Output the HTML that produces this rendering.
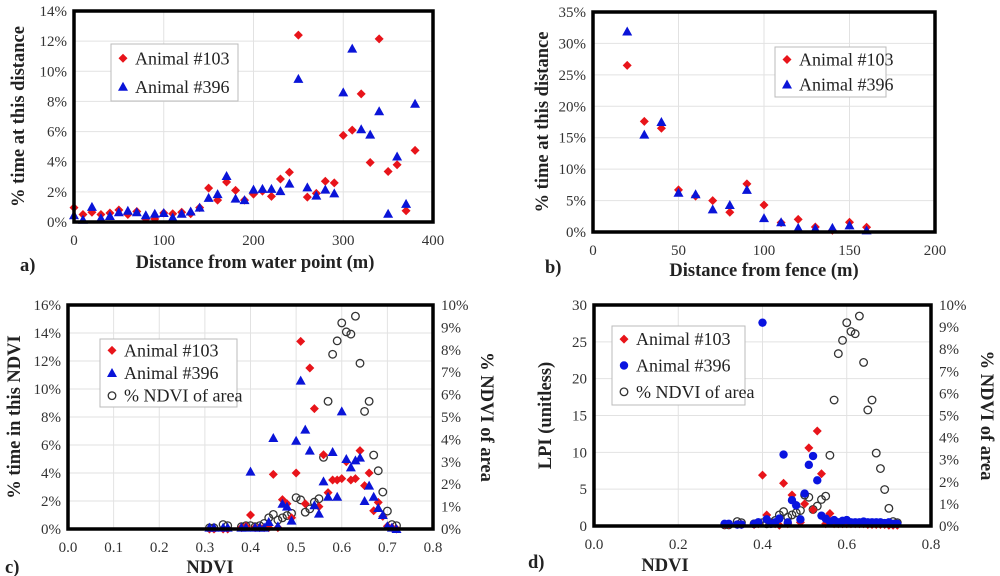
<!DOCTYPE html>
<html><head><meta charset="utf-8"><style>
body{margin:0;background:#fff;font-family:"Liberation Serif","DejaVu Serif",serif;}
svg{display:block;font-family:"Liberation Serif","DejaVu Serif",serif;}
svg text{font-family:"Liberation Serif","DejaVu Serif",serif;}
.tk{font-size:15px;fill:#333;}
.ttl{font-size:18.5px;font-weight:bold;fill:#222;}
.lg{font-size:18px;fill:#222;}
</style></head><body>
<svg id="chart" width="1000" height="576" viewBox="0 0 1000 576" font-family="Liberation Serif, serif"></svg>
<script>
// Panel a data
const aDist=[0,10,20,30,40,50,60,70,80,90,100,110,120,130,140,150,160,170,180,190,200,210,220,230,240,250,260,270,280,290,300,310,320,330,340,350,360,370,380];
const aRed=[0.95,0.5,0.65,0.5,0.6,0.8,0.5,0.7,0.2,0.2,0.6,0.55,0.65,0.55,0.95,2.25,1.45,2.65,2.1,1.45,1.85,2.05,1.7,2.85,3.3,12.4,1.65,1.9,2.7,2.6,5.75,6.1,8.5,3.95,12.15,3.35,3.8,0.75,4.75];
const aBlue=[0.45,0.15,1.0,0.25,0.4,0.65,0.75,0.65,0.45,0.55,0.6,0.3,0.55,0.7,0.95,1.6,1.85,3.05,1.55,1.45,2.15,2.2,2.2,2.05,2.55,9.5,2.3,1.75,2.15,1.9,8.6,11.5,6.15,5.8,7.35,0.55,4.35,1.2,7.85];
const aXTicks=[0,100,200,300,400];
const aYTicks=[0,2,4,6,8,10,12,14];
// Panel b data
const bDist=[20,30,40,50,60,70,80,90,100,110,120,130,140,150,160];
const bRed=[26.5,17.6,16.5,6.7,5.7,5.0,3.15,7.65,4.3,1.5,2.0,0.8,0.27,1.55,0.75];
const bBlue=[31.9,15.5,17.5,6.25,6.0,3.6,4.3,6.7,2.2,1.55,0.65,0.55,0.65,1.05,0.25];
const bXTicks=[0,50,100,150,200];
const bYTicks=[0,5,10,15,20,25,30,35];
// Panels c/d data
const ndvi=[0.31,0.32,0.34,0.35,0.38,0.39,0.40,0.41,0.42,0.43,0.44,0.45,0.46,0.47,0.48,0.49,0.50,0.51,0.52,0.53,0.54,0.55,0.56,0.57,0.58,0.59,0.60,0.61,0.62,0.63,0.64,0.65,0.66,0.67,0.68,0.69,0.70,0.71,0.72];
const cRed=[0,0,0,0,0.1,0.2,1.0,0.1,0.1,0.1,0.1,3.9,0.1,2.1,1.8,0.8,4.0,13.4,1.8,11.5,8.6,1.6,5.3,2.6,3.5,3.5,3.6,4.8,3.5,3.6,5.6,3.1,4.0,1.3,1.9,0.9,0.2,0.1,0];
const cBlue=[0.1,0.1,0.1,0.1,0.1,0.1,4.1,0.1,0.1,0.1,0.5,6.5,0.2,1.8,1.6,0.6,6.3,10.6,7.1,5.6,1.7,1.1,3.4,2.3,5.5,2.3,8.4,5.0,4.4,4.9,5.1,2.0,3.1,2.3,1.5,1.0,0.2,0.1,0];
const areaPct=[0.05,0.05,0.2,0.15,0.1,0.15,0.15,0.1,0.15,0.25,0.5,0.65,0.4,0.5,0.6,0.7,1.4,1.3,0.75,0.9,1.2,1.35,3.2,5.7,7.8,8.4,9.2,8.8,8.7,9.5,7.4,5.25,5.7,3.3,2.6,1.65,0.8,0.2,0.15];
const dRed=[0.2,0.2,0.2,0.2,0.2,0.3,6.9,1.5,0.3,0.3,0.1,5.8,0.3,4.2,2.8,0.5,3.0,10.6,2.2,12.9,7.1,0.3,1.7,0.3,0.3,0.3,0.3,0.3,0.3,0.3,0.3,0.2,0.2,0.2,0.2,0.2,0.1,0.1,0.1];
const dBlue=[0.3,0.3,0.2,0.2,0.3,0.5,27.6,0.9,0.3,0.5,1.0,9.7,0.5,3.5,2.8,0.9,4.4,8.3,9.5,6.2,1.4,1.0,0.6,0.8,0.5,0.7,0.8,0.5,0.5,0.5,0.6,0.5,0.5,0.5,0.5,0.4,0.5,0.3,0.3];
const cXTicks=[0,0.1,0.2,0.3,0.4,0.5,0.6,0.7,0.8];
const cYTicks=[0,2,4,6,8,10,12,14,16];
const rTicks=[0,1,2,3,4,5,6,7,8,9,10];
const dXTicks=[0,0.2,0.4,0.6,0.8];
const dYTicks=[0,5,10,15,20,25,30];

const NS="http://www.w3.org/2000/svg";
const FONT='"Liberation Serif", "DejaVu Serif", serif';
const svg=document.getElementById('chart');
function el(tag,attrs,parent,text){const e=document.createElementNS(NS,tag);for(const k in attrs)e.setAttribute(k,attrs[k]);if(tag==='text'){e.setAttribute('font-family',FONT);e.style.fontFamily=FONT;}if(text!==undefined)e.textContent=text;(parent||svg).appendChild(e);return e;}
function lin(d0,d1,r0,r1){return v=>r0+(v-d0)/(d1-d0)*(r1-r0);}

function panel(p){
  const g=el('g',{});
  
  
  const x=lin(p.xd[0],p.xd[1],p.L,p.R), y=lin(p.yd[0],p.yd[1],p.B,p.T);
  p.xs=x;p.ys=y;
  p.xTicks.forEach(t=>{el('line',{x1:x(t),x2:x(t),y1:p.T,y2:p.B,stroke:'#e2e2e2','stroke-width':1},g);
    const tl=el('text',{x:x(t),y:p.B+23,'text-anchor':'middle',class:'tk'},g,p.xFmt(t));
    });
  p.yTicks.forEach(t=>{el('line',{x1:p.L,x2:p.R,y1:y(t),y2:y(t),stroke:'#e2e2e2','stroke-width':1},g);
    const tl=el('text',{x:p.L-7,y:y(t)+5,'text-anchor':'end',class:'tk'},g,p.yFmt(t));
    });
  if(p.rTicks){p.yr=lin(0,10,p.B,p.T);p.rTicks.forEach(t=>{
    const tl=el('text',{x:p.R+8,y:p.yr(t)+5,'text-anchor':'start',class:'tk'},g,t+'%');
    });}
  const xt=el('text',{x:p.xtX,y:p.xtY,'text-anchor':'middle',class:'ttl'},g,p.xTitle);
  
  const yt=el('text',{x:0,y:0,'text-anchor':'middle',class:'ttl',transform:`translate(${p.ytX},${(p.T+p.B)/2}) rotate(-90)`},g,p.yTitle);
  
  if(p.rTitle){const rt=el('text',{x:0,y:0,'text-anchor':'middle',class:'ttl',transform:`translate(${p.rtX},${(p.T+p.B)/2}) rotate(90)`},g,p.rTitle);
    }
  const lab=el('text',{x:p.labX,y:p.labY,class:'ttl','font-size':'19'},g,p.label);
  
  p.g=g;return p;
}
function frame(p){const f=el('rect',{x:p.L,y:p.T,width:p.R-p.L,height:p.B-p.T,fill:'none',stroke:'#000','stroke-width':3.5},p.g);
  }
function diamond(g,cx,cy,s){return el('path',{d:`M${cx} ${cy-s}L${cx+s} ${cy}L${cx} ${cy+s}L${cx-s} ${cy}Z`,fill:'#e8141a'},g);}
function tri(g,cx,cy,s){return el('path',{d:`M${cx} ${cy-s}L${cx+s} ${cy+s*0.8}L${cx-s} ${cy+s*0.8}Z`,fill:'#0a14d8'},g);}
function dot(g,cx,cy,r){return el('circle',{cx:cx,cy:cy,r:r,fill:'#0a14e0'},g);}
function ring(g,cx,cy,r){return el('circle',{cx:cx,cy:cy,r:r,fill:'none',stroke:'#333','stroke-width':1.3},g);}
function series(p,xs,ys,kind,name,useRight){
  const g=el('g',{},p.g);
  const yf=useRight?p.yr:p.ys;
  xs.forEach((xv,i)=>{const cx=p.xs(xv),cy=yf(ys[i]);let m;
    if(kind==='d')m=diamond(g,cx,cy,4.5);else if(kind==='t')m=tri(g,cx,cy,5);else if(kind==='c')m=dot(g,cx,cy,4.2);else m=ring(g,cx,cy,3.8);
    });
}
function legend(p,x,y,w,h,items,fs){
  const g=el('g',{},p.g);
  el('rect',{x:x,y:y,width:w,height:h,fill:'#fff',stroke:'#bbb','stroke-width':1},g);
  const step=h/items.length;
  items.forEach((it,i)=>{const cy=y+step*(i+0.5);const e=el('g',{},g);
    
    if(it[0]==='d')diamond(e,x+12,cy,4.5);else if(it[0]==='t')tri(e,x+12,cy,5);else if(it[0]==='c')dot(e,x+12,cy,4.2);else ring(e,x+12,cy,3.8);
    el('text',{x:x+24,y:cy+6,class:'lg','font-size':fs},e,it[1]);});
}
const pct=t=>t+'%';
// a
const pa=panel({name:'panel-a',L:74,R:433,T:11,B:222,xd:[0,400],yd:[0,14],xTicks:aXTicks,yTicks:aYTicks,xFmt:t=>t,yFmt:pct,
 xTitle:'Distance from water point (m)',xtX:255,xtY:268,yTitle:'% time at this distance',ytX:24,label:'a)',labX:20,labY:271});
series(pa,aDist,aRed,'d','animal-103-series');series(pa,aDist,aBlue,'t','animal-396-series');
legend(pa,111,44,127,57,[['d','Animal #103'],['t','Animal #396']],19);frame(pa);
// b
const pb=panel({name:'panel-b',L:593,R:935,T:12,B:232,xd:[0,200],yd:[0,35],xTicks:bXTicks,yTicks:bYTicks,xFmt:t=>t,yFmt:pct,
 xTitle:'Distance from fence (m)',xtX:764,xtY:276,yTitle:'% time at this distance',ytX:548,label:'b)',labX:545,labY:273});
series(pb,bDist,bRed,'d','animal-103-series');series(pb,bDist,bBlue,'t','animal-396-series');
legend(pb,775,47,111,50,[['d','Animal #103'],['t','Animal #396']],18);frame(pb);
// c
const pc=panel({name:'panel-c',L:68,R:433,T:305,B:529,xd:[0,0.8],yd:[0,16],xTicks:cXTicks,yTicks:cYTicks,xFmt:t=>t.toFixed(1),yFmt:pct,rTicks:rTicks,
 xTitle:'NDVI',xtX:210,xtY:573,yTitle:'% time in this NDVI',ytX:20,rTitle:'% NDVI of area',rtX:481,label:'c)',labX:5,labY:573});
series(pc,ndvi,areaPct,'o','ndvi-area-series',true);series(pc,ndvi,cRed,'d','animal-103-series');series(pc,ndvi,cBlue,'t','animal-396-series');
legend(pc,100,339,137,68,[['d','Animal #103'],['t','Animal #396'],['o','% NDVI of area']],17);frame(pc);
// d
const pd=panel({name:'panel-d',L:594,R:931,T:305,B:526,xd:[0,0.8],yd:[0,30],xTicks:dXTicks,yTicks:dYTicks,xFmt:t=>t.toFixed(1),yFmt:t=>t,rTicks:rTicks,
 xTitle:'NDVI',xtX:665,xtY:571,yTitle:'LPI (unitless)',ytX:551,rTitle:'% NDVI of area',rtX:981,label:'d)',labX:528,labY:568});
series(pd,ndvi,areaPct,'o','ndvi-area-series',true);series(pd,ndvi,dRed,'d','animal-103-series');series(pd,ndvi,dBlue,'c','animal-396-series');
legend(pd,612,326,133,79,[['d','Animal #103'],['c','Animal #396'],['o','% NDVI of area']],17);frame(pd);
</script>
</body></html>
